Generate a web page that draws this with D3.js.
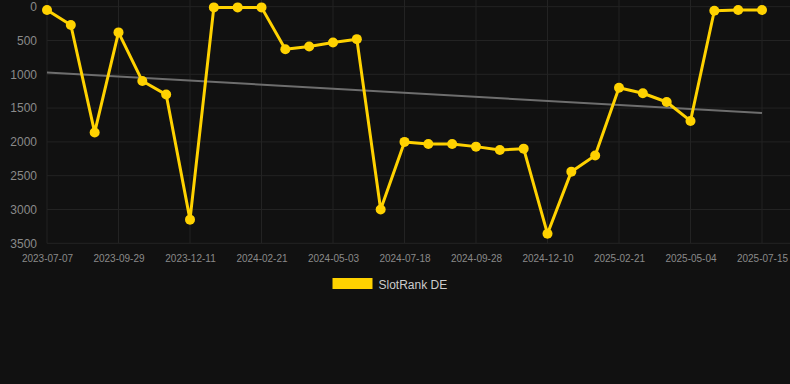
<!DOCTYPE html>
<html><head><meta charset="utf-8">
<script src="https://cdn.jsdelivr.net/npm/d3@7"></script>
<style>
html,body{margin:0;padding:0;background:#111111;}
svg{display:block;}
text{font-family:"Liberation Sans",Arial,sans-serif;}
</style></head>
<body>
<svg id="chart" width="790" height="384"></svg>
<script>
const dates = ["2023-07-07","2023-07-31","2023-08-28","2023-09-29","2023-10-23","2023-11-17","2023-12-11","2024-01-04","2024-01-28","2024-02-21","2024-03-16","2024-04-09","2024-05-03","2024-05-28","2024-06-23","2024-07-18","2024-08-11","2024-09-04","2024-09-28","2024-10-22","2024-11-16","2024-12-10","2025-01-03","2025-01-28","2025-02-21","2025-03-17","2025-04-10","2025-05-04","2025-05-28","2025-06-21","2025-07-15"];
const ranks = [50,270,1860,380,1100,1300,3150,10,10,10,630,590,530,480,3000,2000,2030,2030,2070,2120,2100,3360,2440,2200,1200,1280,1410,1690,60,50,50];
const yTicks = [0,500,1000,1500,2000,2500,3000,3500];
const seriesName = "SlotRank DE";

const svg = d3.select("#chart");
const W = 790, H = 384;
svg.append("rect").attr("width",W).attr("height",H).attr("fill","#111111");

const x = d3.scalePoint().domain(dates).range([47, 762]);
const y = d3.scaleLinear().domain([0, 3500]).range([6.7, 243.3]);

const gridColor = "#232323";
// horizontal grid
svg.append("g").selectAll("line").data(yTicks).join("line")
  .attr("x1",47).attr("x2",790)
  .attr("y1",d=>y(d)).attr("y2",d=>y(d))
  .attr("stroke",gridColor).attr("stroke-width",1);
// vertical grid
const xTickDates = dates.filter((d,i)=>i%3===0);
svg.append("g").selectAll("line").data(xTickDates).join("line")
  .attr("x1",d=>x(d)).attr("x2",d=>x(d))
  .attr("y1",0).attr("y2",y(3500))
  .attr("stroke",gridColor).attr("stroke-width",1);

// y axis
const yAxis = d3.axisLeft(y).tickValues(yTicks).tickFormat(d3.format("d")).tickSize(0).tickPadding(0);
const gy = svg.append("g").attr("transform","translate(37,0)").call(yAxis);
gy.select(".domain").remove();
gy.selectAll("text").attr("fill","#8a8a8a").style("font-size","12px").style("font-family","'Liberation Sans',Arial,sans-serif");

// x axis
const xAxis = d3.axisBottom(x).tickValues(xTickDates).tickSize(0).tickPadding(0);
const gx = svg.append("g").attr("transform","translate(0,255)").call(xAxis);
gx.select(".domain").remove();
gx.selectAll("text").attr("fill","#8a8a8a").style("font-size","10px").style("font-family","'Liberation Sans',Arial,sans-serif");

// trend line (least squares)
const n = ranks.length;
const idx = d3.range(n);
const mx = d3.mean(idx), my = d3.mean(ranks);
const slope = d3.sum(idx, i=>(i-mx)*(ranks[i]-my)) / d3.sum(idx, i=>(i-mx)*(i-mx));
const intercept = my - slope*mx;
const trend = [0, n-1].map(i=>({d:dates[i], v:intercept + slope*i}));
svg.append("path").datum(trend)
  .attr("d", d3.line().x(p=>x(p.d)).y(p=>y(p.v)))
  .attr("fill","none").attr("stroke","#6e6e6e").attr("stroke-width",2);

// series line
const color = "#ffd200";
svg.append("path").datum(ranks)
  .attr("d", d3.line().x((v,i)=>x(dates[i])).y(v=>y(v)))
  .attr("fill","none").attr("stroke",color).attr("stroke-width",3).attr("stroke-linejoin","round");
svg.append("g").selectAll("circle").data(ranks).join("circle")
  .attr("cx",(v,i)=>x(dates[i])).attr("cy",v=>y(v)).attr("r",5)
  .attr("fill",color);

// legend
svg.append("rect").attr("x",332.5).attr("y",278).attr("width",40).attr("height",11).attr("fill",color);
svg.append("text").attr("x",378.5).attr("y",289).text(seriesName)
  .attr("fill","#cccccc").style("font-size","12px");
</script>
</body></html>
